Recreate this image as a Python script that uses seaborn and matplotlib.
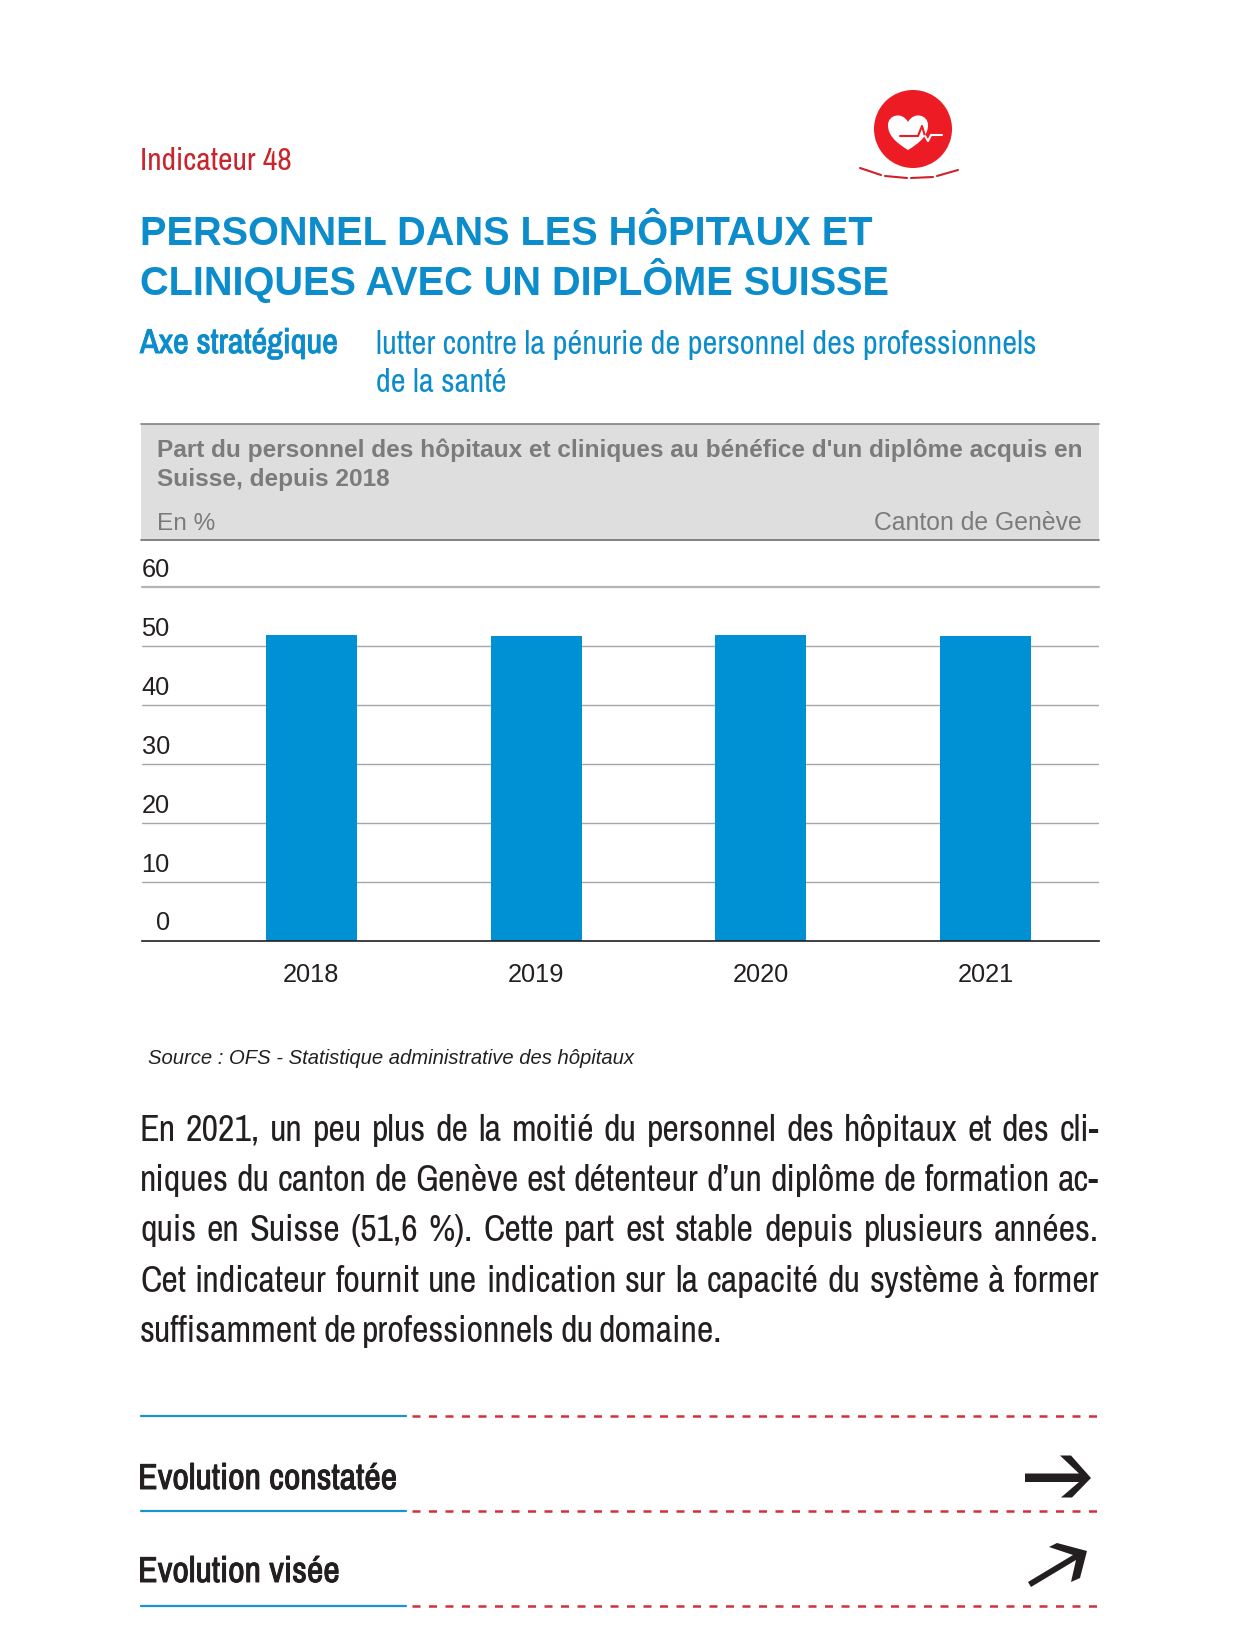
import matplotlib
matplotlib.use("Agg")
import matplotlib.pyplot as plt
import matplotlib.patheffects as pe
import matplotlib.transforms as mtrans
from matplotlib.patches import Circle, Polygon, PathPatch, Rectangle
from matplotlib.path import Path
import pandas as pd
import seaborn as sns

years = ["2018", "2019", "2020", "2021"]
part = [51.9, 51.6, 51.9, 51.6]
yticks = [0, 10, 20, 30, 40, 50, 60]

title_lines = ["PERSONNEL DANS LES HÔPITAUX ET", "CLINIQUES AVEC UN DIPLÔME SUISSE"]
axe_lines = ["lutter contre la pénurie de personnel des professionnels", "de la santé"]
band_lines = ["Part du personnel des hôpitaux et cliniques au bénéfice d'un diplôme acquis en",
              "Suisse, depuis 2018"]
body_lines = ["En 2021, un peu plus de la moitié du personnel des hôpitaux et des cli-",
              "niques du canton de Genève est détenteur d’un diplôme de formation ac-",
              "quis en Suisse (51,6 %). Cette part est stable depuis plusieurs années.",
              "Cet indicateur fournit une indication sur la capacité du système à former",
              "suffisamment de professionnels du domaine."]
body_ends = [1099, 1099, 1099, 1099, 722]

BLUE = "#0090d4"
TITLE_BLUE = "#0c8ccb"
RED = "#c9252c"
GREY = "#7b7b7b"
INK = "#231f20"
NARROW = ["Archivo Narrow", "Liberation Sans"]

sns.set_theme(style="white")
plt.rcParams["font.family"] = ["Liberation Sans", "DejaVu Sans"]

W, H = 1236, 1640
fig = plt.figure(figsize=(W / 100, H / 100), dpi=100, facecolor="white")

# page layer in pixel coordinates
page = fig.add_axes([0, 0, 1, 1])
page.set_xlim(0, W)
page.set_ylim(H, 0)
page.axis("off")


def fat(color, lw=0.7):
    # the narrow face has no static bold, so thicken it
    return [pe.withStroke(linewidth=lw, foreground=color)]


# grey header band
page.add_patch(Rectangle((141, 425), 958, 116, fc="#dedede", ec="none"))
page.plot([141, 1099], [425, 425], color="#808080", lw=1.2)
page.plot([141, 1099], [541, 541], color="#707070", lw=1.2)

page.text(140, 170.5, "Indicateur 48", color=RED, fontsize=22.8, family=NARROW)
for y, line in zip([245, 295], title_lines):
    page.text(140, y, line, color=TITLE_BLUE, fontsize=28.6, fontweight="bold")
page.text(140, 354, "Axe stratégique", color=TITLE_BLUE, fontsize=24.8, family=NARROW, path_effects=fat(TITLE_BLUE))
for y, line in zip([354, 392], axe_lines):
    page.text(376, y, line, color=TITLE_BLUE, fontsize=23.4, family=NARROW)
for y, line in zip([457, 486], band_lines):
    page.text(157, y, line, color=GREY, fontsize=17.6, fontweight="bold")
page.text(157, 530, "En %", color=GREY, fontsize=17.6)
page.text(1082, 530, "Canton de Genève", color=GREY, fontsize=17.8, ha="right")
page.text(148, 1064, "Source : OFS - Statistique administrative des hôpitaux",
          color=INK, fontsize=14.6, style="italic")

# justified body text, word by word
renderer = fig.canvas.get_renderer()
for y, line, end in zip([1141, 1191, 1241, 1292, 1342], body_lines, body_ends):
    words = line.split(" ")
    arts = [page.text(0, y, w, color=INK, fontsize=26, family=NARROW) for w in words]
    widths = [a.get_window_extent(renderer).width for a in arts]
    space = (end - 140 - sum(widths)) / (len(words) - 1)
    x = 140
    for a, w in zip(arts, widths):
        a.set_x(x)
        x += w + space

# separators and evolution rows
for y in [1417, 1512, 1607]:
    page.plot([141, 406], [y, y], color="#1a93cf", lw=1.6)
    page.plot([412, 1099], [y, y], color="#d1303f", lw=1.8, dashes=(3.2, 3.4))
page.text(138, 1490, "Evolution constatée", color=INK, fontsize=25.9, family=NARROW, path_effects=fat(INK))
page.text(138, 1583, "Evolution visée", color=INK, fontsize=25.9, family=NARROW, path_effects=fat(INK))

page.add_patch(Polygon([(1025, 1474.5), (1079, 1474.5), (1060, 1456.5), (1071, 1456.5), (1091, 1479),
                        (1072, 1498.5), (1061, 1498.5), (1079, 1483), (1025, 1483)], fc=INK, ec="none"))
page.add_patch(Polygon([(1087, 1552), (1057, 1544), (1049, 1548), (1073, 1556), (1028, 1583), (1031, 1588),
                        (1076, 1561), (1071, 1583), (1080, 1579)], fc=INK, ec="none"))

# heart icon
page.add_patch(Circle((913, 130), 39, fc="#ed1c24", ec="none"))
heart = Path([(908, 151), (895, 143), (888, 136), (888, 126), (888, 116), (902, 112), (908, 123),
              (914, 112), (928, 116), (928, 126), (928, 136), (921, 143), (908, 151)],
             [Path.MOVETO] + [Path.CURVE4] * 12)
page.add_patch(PathPatch(heart, fc="white", ec="none"))
page.plot([900, 918, 922, 925], [137, 137, 127, 137], color="#ed1c24", lw=1.5)
page.plot([925, 928, 931, 942], [137, 142, 136, 136], color="white", lw=1.5)
for seg in [[(860, 169), (881, 176)], [(885, 177), (907, 179)], [(911, 179), (933, 178)], [(937, 177), (958, 171)]]:
    page.plot(*zip(*seg), color="#d0202a", lw=1.5)

# chart
ax = fig.add_axes([142 / W, 1 - 941.5 / H, 957 / W, 353.5 / H])
ax.patch.set_alpha(0)
df = pd.DataFrame({"annee": years, "part": part})
sns.barplot(data=df, x="annee", y="part", color=BLUE, saturation=1, width=0.405, linewidth=0, ax=ax)
ax.set_xlim(-0.754, 3.505)
ax.set_ylim(0, 60)
ax.set_xlabel("")
ax.set_ylabel("")
ax.set_axisbelow(True)
ax.set_yticks(yticks)
ax.grid(axis="y", color="#a6a6a6", lw=1)
ax.grid(axis="x", visible=False)
ax.yaxis.get_gridlines()[-1].set(color="#b5b5b5", lw=1.6, clip_on=False)
sns.despine(ax=ax, left=True, top=True, right=True)
ax.spines["bottom"].set(color=INK, lw=1.2)
ax.tick_params(axis="y", length=0, pad=-20, labelsize=18.3, labelcolor=INK)
ax.tick_params(axis="x", length=0, pad=15.5, labelsize=18.3, labelcolor=INK)
up = mtrans.ScaledTranslation(0, 11 / 100, fig.dpi_scale_trans)
for lab in ax.get_yticklabels():
    lab.set_va("baseline")
    lab.set_ha("right")
    lab.set_transform(lab.get_transform() + up)

fig.savefig("out.png", dpi=100, facecolor="white")
